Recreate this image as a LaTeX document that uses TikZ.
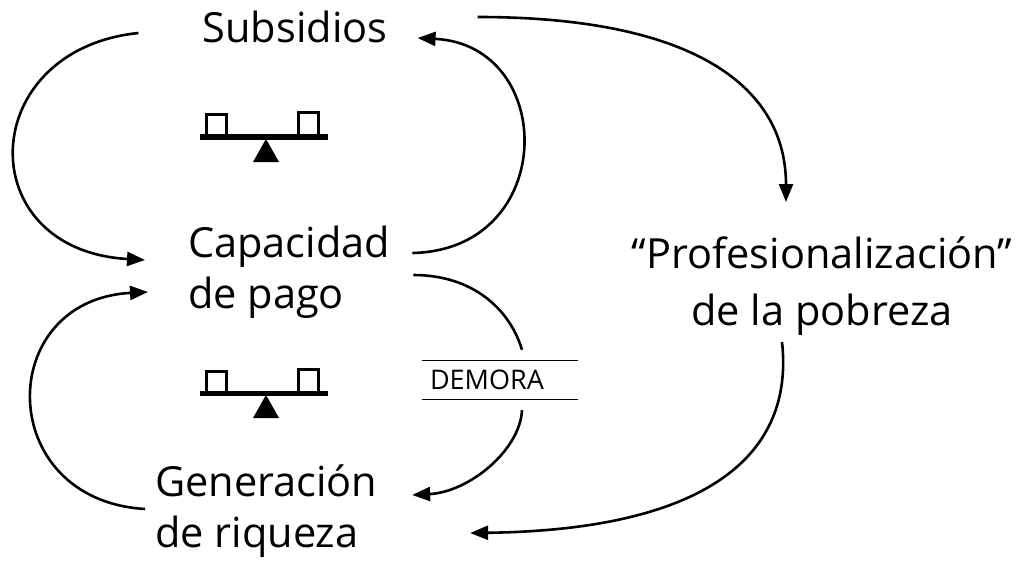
\documentclass[tikz,border=0pt]{standalone}
\usepackage{fontspec}
\setmainfont{Open Sans}
\usepackage{tikz}
\usetikzlibrary{arrows.meta}
\tikzset{
  every picture/.style = {
    x = 1pt,
    y = -1pt,
    >={Triangle[length=18pt,width=14pt]},
  }
  ,
  var-node/.style = {
    inner sep = 0pt,
    font = \fontsize{41.5}{51}\selectfont
  }
  , % label of the delay
  label-delay/.style = {
    inner xsep = 8pt,
    inner ysep = 0pt,
    text width = 140pt,
    minimum height = 38pt,
    align = left,
    font = \fontsize{27}{30}\selectfont
  }
  , % causal links
  causal-link/.style = {
    line width = 2.6pt,
    ->
  }
  , % balancing loop icon
  balanza/.pic = {
    \draw[line width=5pt] (-64,0) -- (64,0);
    \draw[line width=3pt] (-58,0) |- (-38,-22) -- (-38,0);
    \draw[line width=3pt] (34,0) |- (54,-24) -- (54,0);
    \fill (2,2) -- (15,25) -- (-11,25) -- cycle;
  }
}

\begin{document}
\begin{tikzpicture}
    \useasboundingbox (0,0) rectangle (1030,567);
    \node[var-node, anchor=base] at (295,43) (sub) {Subsidios};
    \node[var-node, anchor=north west, align=left] at (188,225.5) (cap) {Capacidad\\de pago};
    \node[var-node, anchor=north west, align=left] at (155,465) (gen) {Generación\\de riqueza};
    \node[var-node, anchor=north, align=center, font=\fontsize{41.5}{57}\selectfont] at (822,237) (prof) {“Profesionalización”\\de la pobreza};
    \node[label-delay] at (500,380) (demora) {DEMORA};
    \draw[line width=1.2pt] (demora.north west) -- (demora.north east) (demora.south west) -- (demora.south east);
    \pic at (264,137) {balanza};
    \pic at (264,393) {balanza};
    % upper loop
    \draw[causal-link] ([shift={(-64,-10)}]sub.base west) .. controls +(-163,17) and +(-175,-10) .. ([shift={(-43,34.5)}]cap.north west);
    \draw[causal-link] ([shift={(22,27.5)}]cap.north east) .. controls +(146,-3) and +(140,7) .. ([shift={(30,-5)}]sub.base east);
    % outer loop
    \draw[causal-link] ([shift={(90,-26)}]sub.base east) .. controls +(222,0) and +(0,-112) .. ([shift={(-36,-35)}]prof.north);
    \draw[causal-link] ([shift={(-40,105)}]prof.north) .. controls +(13,118) and +(229,-3) .. ([shift={(92.5,68)}]gen.north east);
    % lower loop
    \draw[causal-link, -] ([shift={(23,49.5)}]cap.north east) .. controls +(60,0) and +(-12,-40) .. ([shift={(22,-11)}]demora.north);
    \draw[causal-link] ([shift={(22,11)}]demora.south) .. controls +(-2,40) and +(57,-3) .. ([shift={(34.5,30)}]gen.north east);
    \draw[causal-link] ([shift={(-10,44)}]gen.north west) .. controls +(-151,-9) and +(-154,8) .. ([shift={(-40,66.5)}]cap.north west);
\end{tikzpicture}
\end{document}
